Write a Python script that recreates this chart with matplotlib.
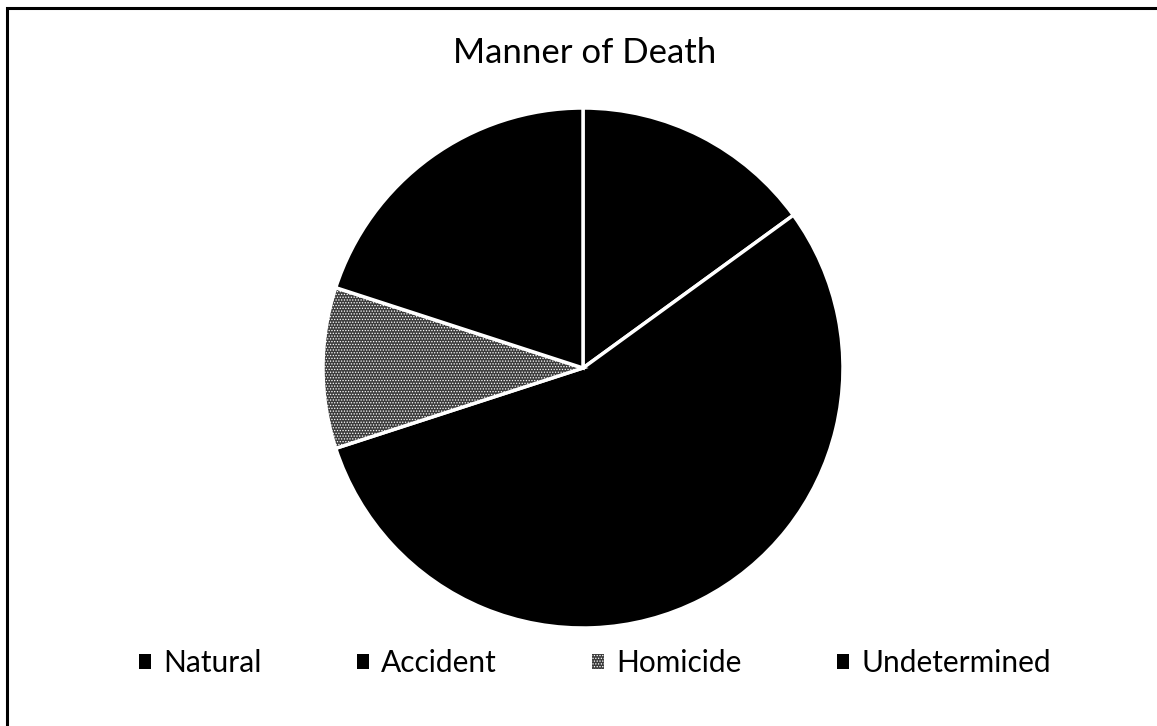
import matplotlib.pyplot as plt
from matplotlib.patches import Rectangle

# values (percent of deaths)
categories = ['Natural', 'Accident', 'Homicide', 'Undetermined']
shares = [15, 55, 10, 20]
face_colors = ['#000000', '#000000', '#3c3c3c', '#000000']
hatches = [None, None, '......', None]

plt.rcParams['font.family'] = ['Lato', 'DejaVu Sans']
plt.rcParams['hatch.linewidth'] = 0.6

W, H = 1157, 726
fig = plt.figure(figsize=(W / 100, H / 100), dpi=100)
fig.patch.set_facecolor('white')

# outer frame (only left and top edges are visible in the scan)
fig.add_artist(Rectangle((7 / W, -0.05), 1.2, (H - 8) / H + 0.05,
                         transform=fig.transFigure, fill=False,
                         edgecolor='black', linewidth=2.2, clip_on=False))

cx, cy, r = 583, 368, 260
ax = fig.add_axes([(cx - r) / W, (H - cy - r) / H, 2 * r / W, 2 * r / H])
wedges, _ = ax.pie(shares, colors=face_colors, startangle=90,
                   counterclock=False,
                   wedgeprops=dict(edgecolor='white', linewidth=2.5))
for w, h in zip(wedges, hatches):
    if h:
        w.set_hatch(h)
ax.set_xlim(-1, 1)
ax.set_ylim(-1, 1)
ax.set_aspect('equal')

fig.text(cx / W + 2 / W, 1 - 53 / H, 'Manner of Death', ha='center',
         va='center', fontsize=25, color='black')

leg = fig.legend(wedges, categories, loc='center', ncol=4,
                 bbox_to_anchor=(595 / W, 1 - 663 / H), frameon=False,
                 fontsize=21.5, handlelength=0.4, handleheight=0.4,
                 handletextpad=0.4, columnspacing=3.2)
for p in leg.get_patches():
    p.set_linewidth(0)

fig.savefig('out.png', dpi=100, facecolor='white')
